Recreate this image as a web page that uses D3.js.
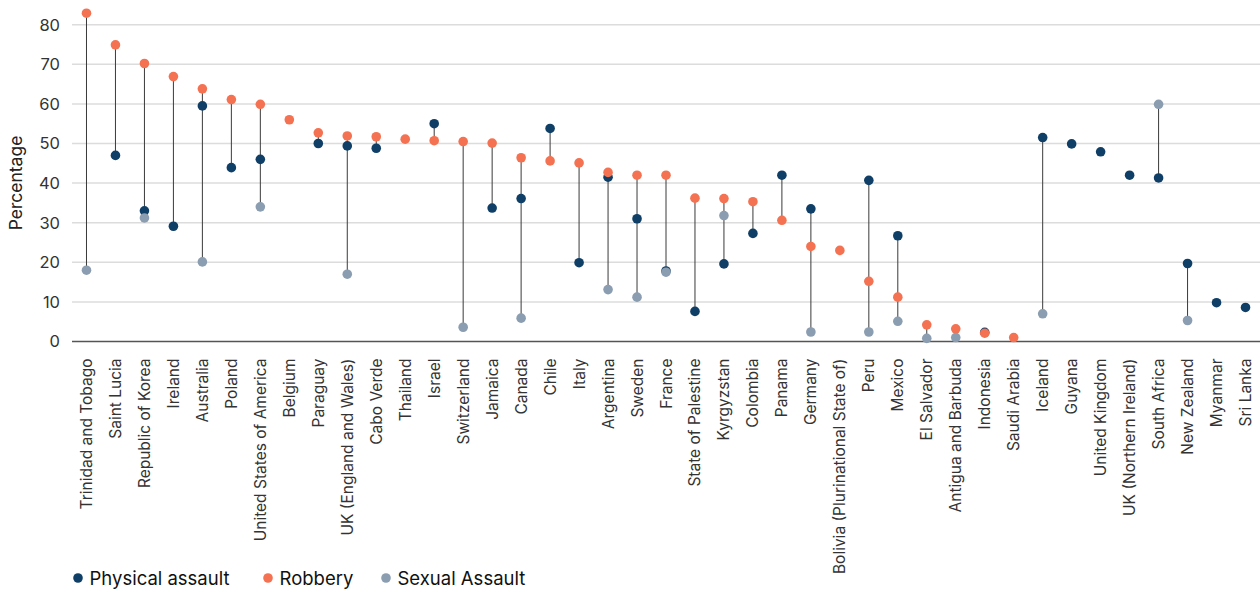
<!DOCTYPE html>
<html><head><meta charset="utf-8">
<script src="https://cdn.jsdelivr.net/npm/d3@7"></script>
<style>body{margin:0;background:#fff;}svg{display:block;font-family:Inter,"Noto Sans",sans-serif;}</style>
</head><body><svg id="c" width="1260" height="594"></svg>
<script>
const countries = ["Trinidad and Tobago","Saint Lucia","Republic of Korea","Ireland","Australia","Poland","United States of America","Belgium","Paraguay","UK (England and Wales)","Cabo Verde","Thailand","Israel","Switzerland","Jamaica","Canada","Chile","Italy","Argentina","Sweden","France","State of Palestine","Kyrgyzstan","Colombia","Panama","Germany","Bolivia (Plurinational State of)","Peru","Mexico","El Salvador","Antigua and Barbuda","Indonesia","Saudi Arabia","Iceland","Guyana","United Kingdom","UK (Northern Ireland)","South Africa","New Zealand","Myanmar","Sri Lanka"];
const physical = [null,47.0,33.0,29.1,59.5,43.9,46.0,null,50.0,49.4,48.8,null,55.0,null,33.7,36.1,53.8,19.9,41.5,31.0,17.8,7.6,19.6,27.3,42.0,33.5,null,40.7,26.7,null,null,2.3,null,51.5,49.9,47.9,42.0,41.3,19.7,9.8,8.6];
const robbery = [82.9,74.9,70.2,66.9,63.8,61.1,59.9,56.0,52.7,51.9,51.7,51.1,50.7,50.5,50.1,46.4,45.6,45.1,42.7,42.0,42.0,36.2,36.1,35.3,30.6,24.0,23.0,15.2,11.2,4.2,3.2,2.1,1.0,null,null,null,null,null,null,null,null];
const sexual = [18.0,null,31.2,null,20.1,null,34.0,null,null,17.0,null,null,null,3.6,null,5.9,null,null,13.1,11.2,17.5,null,31.8,null,null,2.4,null,2.4,5.1,0.8,1.0,null,null,7.0,null,null,null,59.9,5.3,null,null];
const yTicks = [0,10,20,30,40,50,60,70,80];
const seriesNames = ["Physical assault","Robbery","Sexual Assault"];
const seriesColors = ["#0f3f66","#f47251","#8b9db0"];

const svg = d3.select("#c");
const m = {left:72, right:1260, top:24.7, bottom:341.5};
const x = d3.scaleBand().domain(countries).range([m.left, m.right]).paddingInner(0).paddingOuter(0);
const y = d3.scaleLinear().domain([0,80]).range([m.bottom, m.top]);

// gridlines
svg.append("g").selectAll("line").data(yTicks.filter(d=>d>0)).join("line")
  .attr("x1", m.left).attr("x2", m.right).attr("y1", d=>y(d)).attr("y2", d=>y(d))
  .attr("stroke","#dcdcdc").attr("stroke-width",1.5);

// y tick labels
svg.append("g").selectAll("text").data(yTicks).join("text")
  .attr("x", 60).attr("y", d=>y(d)).attr("dy","0.36em").attr("text-anchor","end")
  .attr("font-size",16.5).attr("fill","#333").text(d=>d);

// y axis title
svg.append("text").attr("transform",`translate(22,183) rotate(-90)`)
  .attr("text-anchor","middle").attr("font-size",17.5).attr("fill","#222").text("Percentage");

// baseline
svg.append("line").attr("x1",m.left).attr("x2",m.right).attr("y1",y(0)).attr("y2",y(0))
  .attr("stroke","#555").attr("stroke-width",1.5);

// x labels
svg.append("g").selectAll("text").data(countries).join("text")
  .attr("transform", d=>`translate(${x(d)+x.bandwidth()/2+5.5},${m.bottom+17}) rotate(-90)`)
  .attr("text-anchor","end").attr("font-size",15.5).attr("fill","#333").text(d=>d);

// connectors
const rows = countries.map((c,i)=>({c, vals:[physical[i],robbery[i],sexual[i]]}));
svg.append("g").selectAll("line").data(rows.filter(r=>r.vals.filter(v=>v!=null).length>1)).join("line")
  .attr("x1", r=>x(r.c)+x.bandwidth()/2).attr("x2", r=>x(r.c)+x.bandwidth()/2)
  .attr("y1", r=>y(d3.max(r.vals.filter(v=>v!=null))))
  .attr("y2", r=>y(d3.min(r.vals.filter(v=>v!=null))))
  .attr("stroke","#3a3a3a").attr("stroke-width",1);

// dots
const seriesData = [physical, robbery, sexual];
seriesData.forEach((arr,si)=>{
  svg.append("g").selectAll("circle").data(countries.map((c,i)=>({c,v:arr[i]})).filter(d=>d.v!=null)).join("circle")
    .attr("cx", d=>x(d.c)+x.bandwidth()/2).attr("cy", d=>y(d.v)).attr("r",4.8)
    .attr("fill", seriesColors[si]);
});

// legend
const legX = [78, 268, 386];
const lg = svg.append("g").selectAll("g").data(seriesNames).join("g")
  .attr("transform",(d,i)=>`translate(${legX[i]},578)`);
lg.append("circle").attr("r",4.8).attr("fill",(d,i)=>seriesColors[i]);
lg.append("text").attr("x",11.5).attr("dy","0.36em").attr("font-size",18.5).attr("fill","#111").text(d=>d);
</script></body></html>
